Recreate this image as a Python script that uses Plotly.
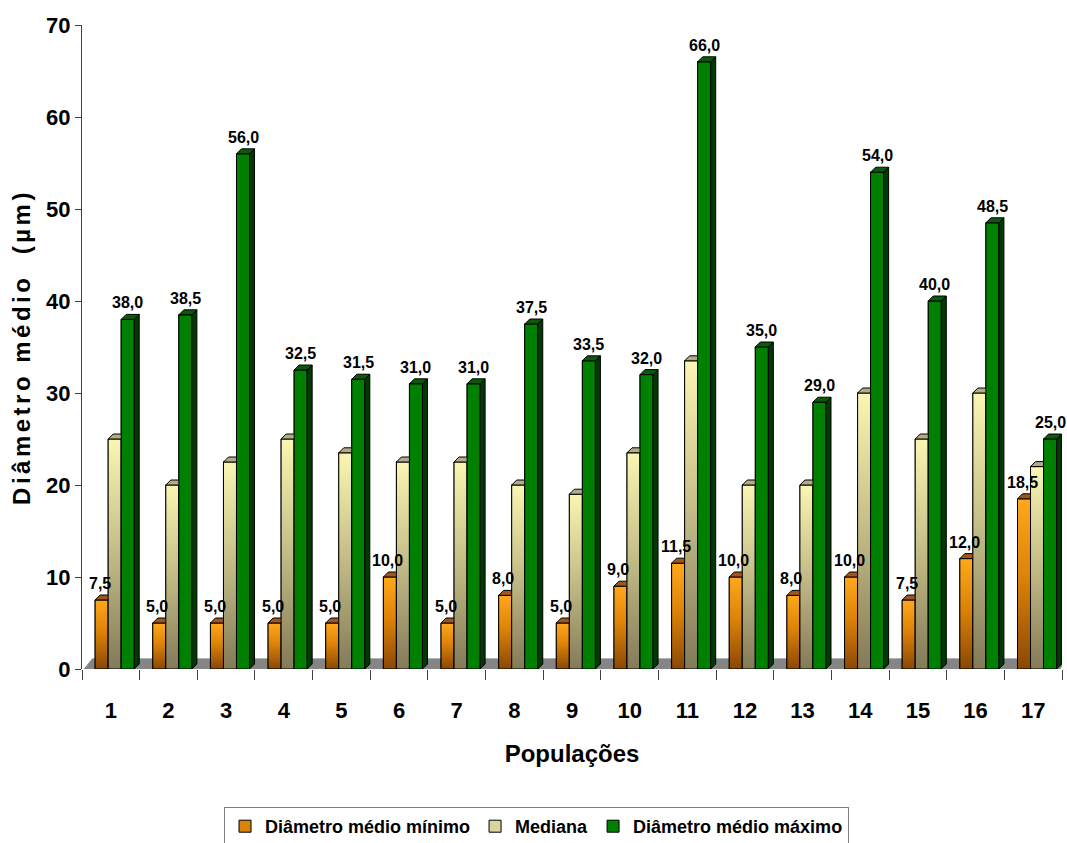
import plotly.graph_objects as go

# ---- data -----------------------------------------------------------------
populations = list(range(1, 18))
pop_labels = [str(p) for p in populations]

diam_min = [7.5, 5.0, 5.0, 5.0, 5.0, 10.0, 5.0, 8.0, 5.0, 9.0, 11.5, 10.0, 8.0, 10.0, 7.5, 12.0, 18.5]
mediana = [25.0, 20.0, 22.5, 25.0, 23.5, 22.5, 22.5, 20.0, 19.0, 23.5, 33.5, 20.0, 20.0, 30.0, 25.0, 30.0, 22.0]
diam_max = [38.0, 38.5, 56.0, 32.5, 31.5, 31.0, 31.0, 37.5, 33.5, 32.0, 66.0, 35.0, 29.0, 54.0, 40.0, 48.5, 25.0]

series_names = ["Diâmetro médio mínimo", "Mediana", "Diâmetro médio máximo"]
y_ticks = [0, 10, 20, 30, 40, 50, 60, 70]

# ---- page geometry ----------------------------------------------------------
W, H = 1067, 843
M_L, M_R, M_T, M_B = 82, 5, 25, 174
X_RANGE = [0.5, 17.5]
Y_RANGE = [0, 70]
px_per_x = (W - M_L - M_R) / (X_RANGE[1] - X_RANGE[0])
px_per_y = (H - M_T - M_B) / (Y_RANGE[1] - Y_RANGE[0])

BAR_W = 0.226                      # bar width (category units)
OFFSETS = [-0.272, -0.046, 0.180]  # left edge of each series relative to category centre
DX = 5.0 / px_per_x                # 3-D depth, horizontal
DY = 5.0 / px_per_y                # 3-D depth, vertical

SANS = "Liberation Sans, Arial, Helvetica, sans-serif"

styles = [
    dict(values=diam_min, legend="#d98307",
         grad=[[0, "#8a4806"], [0.55, "#dd8308"], [1, "#ffa81c"]],
         cap="#a0561a", side="#6a3600"),
    dict(values=mediana, legend="#d9d39c",
         grad=[[0, "#837a58"], [0.55, "#c9c18a"], [1, "#faf6b2"]],
         cap="#b3ab88", side="#5f5a3e"),
    dict(values=diam_max, legend="#008000",
         grad=None, cap="#0b5a0b", side="#003a00"),
]

fig = go.Figure()

# real bars (legend + base faces)
for name, st, off in zip(series_names, styles, OFFSETS):
    fig.add_trace(go.Bar(
        x=populations, y=st["values"], name=name,
        offset=off, width=BAR_W,
        marker=dict(color=st["legend"], line=dict(color="black", width=1)),
        hoverinfo="skip",
    ))


def poly_trace(xs, ys, **kw):
    return go.Scatter(x=xs, y=ys, mode="lines", fill="toself",
                      line=dict(color="black", width=1),
                      hoverinfo="skip", showlegend=False, **kw)


# shaded 3-D faces, drawn series by series so nearer faces overlap correctly
for st, off in zip(styles, OFFSETS):
    vals = st["values"]
    # front faces
    if st["grad"] is not None:
        for p, v in zip(populations, vals):
            xl = p + off
            fig.add_trace(poly_trace(
                [xl, xl + BAR_W, xl + BAR_W, xl, xl], [0, 0, v, v, 0],
                fillgradient=dict(type="vertical", colorscale=st["grad"],
                                  start=0, stop=v)))
    else:
        fx, fy = [], []
        for p, v in zip(populations, vals):
            xl = p + off
            fx += [xl, xl + BAR_W, xl + BAR_W, xl, xl, None]
            fy += [0, 0, v, v, 0, None]
        fig.add_trace(poly_trace(fx, fy, fillcolor=st["legend"]))
    # top caps and right-hand sides
    cx, cy, sx, sy = [], [], [], []
    for p, v in zip(populations, vals):
        xl = p + off
        xr = xl + BAR_W
        cx += [xl, xr, xr + DX, xl + DX, xl, None]
        cy += [v, v, v + DY, v + DY, v, None]
        sx += [xr, xr + DX, xr + DX, xr, xr, None]
        sy += [0, DY, v + DY, v, 0, None]
    fig.add_trace(poly_trace(sx, sy, fillcolor=st["side"]))
    fig.add_trace(poly_trace(cx, cy, fillcolor=st["cap"]))

# value labels for minimum and maximum series
annotations = []
for vals, off, xs in ((diam_min, OFFSETS[0], -2), (diam_max, OFFSETS[2], 0)):
    for p, v in zip(populations, vals):
        annotations.append(dict(
            x=p + off + BAR_W / 2, y=v, xref="x", yref="y",
            text=f"{v:.1f}".replace(".", ","), showarrow=False,
            xanchor="center", yanchor="bottom", xshift=xs, yshift=6,
            font=dict(family=SANS, size=16, color="black", weight="bold"),
        ))

# grey 3-D floor
floor_x = [0.54, 17.46, 17.46 + 0.12, 0.54 + 0.14]
floor_y = [0, 0, 1.1, 1.1]
floor_path = "M {} {} L {} {} L {} {} L {} {} Z".format(
    floor_x[0], floor_y[0], floor_x[1], floor_y[1],
    floor_x[2], floor_y[2], floor_x[3], floor_y[3])
shapes = [
    dict(type="path", path=floor_path, xref="x", yref="y",
         fillcolor="#858585", line=dict(color="#858585", width=1), layer="below"),
    # value axis line continues down to the category tick marks
    dict(type="line", xref="paper", x0=0, x1=0, yref="y", ysizemode="pixel",
         yanchor=0, y0=-10, y1=0, line=dict(color="#404040", width=1)),
]

fig.update_layout(
    width=W, height=H,
    margin=dict(l=M_L, r=M_R, t=M_T, b=M_B, autoexpand=False),
    paper_bgcolor="white", plot_bgcolor="white",
    barmode="overlay",
    showlegend=True,
    legend=dict(
        orientation="h", xref="paper", x=0.4638, xanchor="center",
        yref="container", y=1 - 807 / H, yanchor="top",
        font=dict(family=SANS, size=18, color="black", weight="bold"),
        bordercolor="#7f7f7f", borderwidth=1, bgcolor="white",
        itemwidth=30, traceorder="normal",
    ),
    xaxis=dict(
        range=X_RANGE, tickmode="array", tickvals=populations, ticktext=pop_labels,
        ticks="outside", ticklen=10, tickcolor="rgba(0,0,0,0)",
        ticklabelstandoff=12, automargin=False,
        tickfont=dict(family=SANS, size=22, color="black", weight="bold"),
        minor=dict(tickmode="array", tickvals=[p - 0.5 for p in populations] + [17.5],
                   ticks="outside", ticklen=10, tickcolor="#404040", tickwidth=1,
                   showgrid=False),
        showline=False, showgrid=False, zeroline=False,
        title=dict(text="Populações", standoff=22,
                   font=dict(family=SANS, size=24, color="black", weight="bold")),
    ),
    yaxis=dict(
        range=Y_RANGE, tickmode="array", tickvals=y_ticks,
        ticks="outside", ticklen=6, tickcolor="#404040", automargin=False,
        tickfont=dict(family=SANS, size=22, color="black", weight="bold"),
        showline=True, linecolor="#404040", linewidth=1,
        showgrid=False, zeroline=False,
        title=dict(text='<span style="letter-spacing:3.5px">Diâmetro médio\u00a0\u00a0(µm)</span>',
                   standoff=8,
                   font=dict(family=SANS, size=24, color="black", weight="bold")),
    ),
    annotations=annotations,
    shapes=shapes,
)

fig.write_html("out.html")
